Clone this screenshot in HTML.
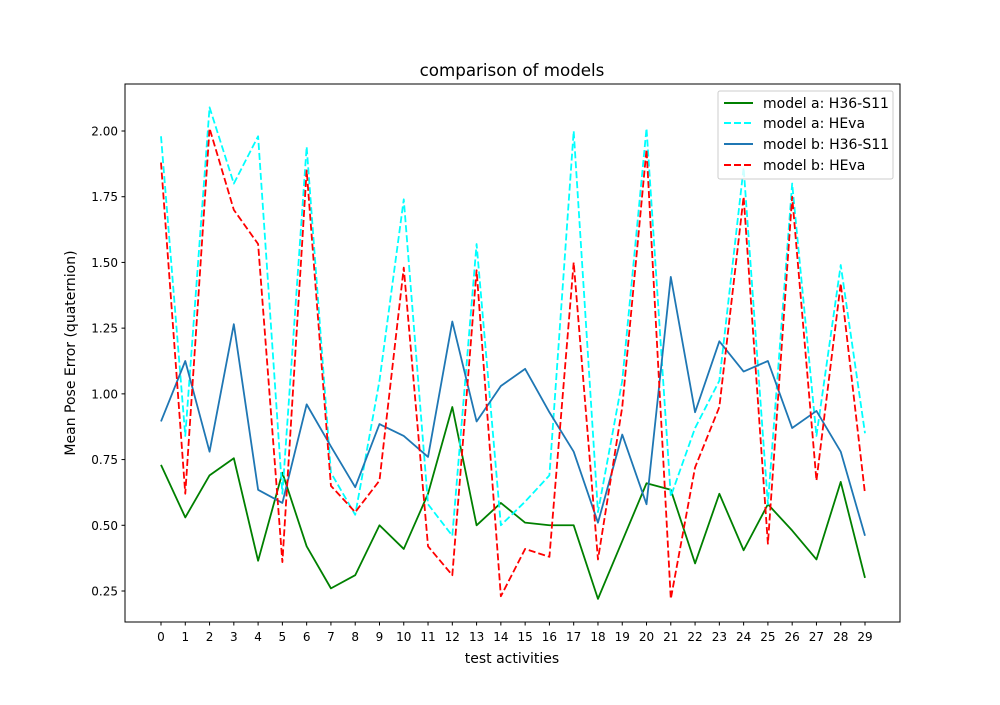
<!DOCTYPE html>
<html><head><meta charset="utf-8"><style>
body{margin:0;background:#fff;}
svg text{font-family:"DejaVu Sans","Liberation Sans",sans-serif;}
</style></head><body>
<svg id="chart" width="1000" height="700" xmlns="http://www.w3.org/2000/svg">
<rect width="1000" height="700" fill="#fff"/>
<text x="512" y="76" font-size="16.7" text-anchor="middle" fill="#000">comparison of models</text>
<g id="plot"></g>
<rect x="125" y="84" width="775" height="538" fill="none" stroke="#000" stroke-width="1"/>
<text x="512" y="663" font-size="14" text-anchor="middle">test activities</text>
<text transform="translate(75,353) rotate(-90)" font-size="14" text-anchor="middle">Mean Pose Error (quaternion)</text>
<g>
<rect x="718" y="91" width="175" height="88" rx="2" fill="#fff" fill-opacity="0.8" stroke="#ccc"/>
<line x1="724" y1="103" x2="753" y2="103" stroke="green" stroke-width="2"/>
<text x="763" y="108" font-size="14">model a: H36-S11</text>
<line x1="724" y1="123" x2="753" y2="123" stroke="cyan" stroke-width="2" stroke-dasharray="7,3"/>
<text x="763" y="128" font-size="14">model a: HEva</text>
<line x1="724" y1="144" x2="753" y2="144" stroke="#1f77b4" stroke-width="2"/>
<text x="763" y="149" font-size="14">model b: H36-S11</text>
<line x1="724" y1="165" x2="753" y2="165" stroke="red" stroke-width="2" stroke-dasharray="7,3"/>
<text x="763" y="170" font-size="14">model b: HEva</text>
</g>
</svg>
<script>
const categories = Array.from({length:30},(_,i)=>i);
const modelAH36 = [0.73,0.53,0.69,0.755,0.365,0.70,0.42,0.26,0.31,0.50,0.41,0.62,0.95,0.50,0.585,0.51,0.50,0.50,0.22,0.44,0.66,0.635,0.355,0.62,0.405,0.58,0.48,0.37,0.665,0.30];
const modelAHEva = [1.98,0.84,2.09,1.80,1.98,0.62,1.94,0.70,0.54,1.05,1.74,0.58,0.46,1.57,0.50,0.59,0.69,2.00,0.55,1.05,2.01,0.61,0.87,1.05,1.86,0.58,1.80,0.84,1.49,0.85];
const modelBH36 = [0.895,1.125,0.78,1.265,0.635,0.585,0.96,0.80,0.645,0.885,0.84,0.76,1.275,0.895,1.03,1.095,0.93,0.78,0.51,0.845,0.58,1.445,0.93,1.20,1.085,1.125,0.87,0.935,0.78,0.46];
const modelBHEva = [1.88,0.62,2.01,1.70,1.57,0.36,1.85,0.65,0.55,0.67,1.48,0.42,0.31,1.47,0.23,0.41,0.38,1.50,0.37,0.95,1.93,0.22,0.72,0.95,1.75,0.43,1.75,0.67,1.42,0.62];
const yTicks = [0.25,0.50,0.75,1.00,1.25,1.50,1.75,2.00];

const NS="http://www.w3.org/2000/svg";
const g=document.getElementById('plot');
const xS=v=>161+v*(865-161)/29;
const yS=v=>591-(v-0.25)*(460/1.75);
function mk(t,a){const e=document.createElementNS(NS,t);for(const k in a)e.setAttribute(k,a[k]);g.appendChild(e);return e;}
categories.forEach(c=>{
  const x=xS(c);
  const t=mk('line',{x1:x,x2:x,y1:622,y2:625.5,stroke:'#000'});
  
  
  const l=mk('text',{x:x,y:641,'font-size':12,'text-anchor':'middle'});
  l.textContent=String(c);
  
  
});
yTicks.forEach(v=>{
  const y=yS(v);
  const t=mk('line',{x1:121.5,x2:125,y1:y,y2:y,stroke:'#000'});
  
  
  const l=mk('text',{x:118,y:y+4.5,'font-size':12,'text-anchor':'end'});
  l.textContent=v.toFixed(2);
  
  
});
function series(arr,color,dash,name){
  const p=mk('polyline',{points:arr.map((v,i)=>xS(categories[i])+','+yS(v)).join(' '),fill:'none',stroke:color,'stroke-width':1.8,'stroke-linejoin':'round'});
  if(dash)p.setAttribute('stroke-dasharray',dash);
  
  
}
series(modelAH36,'green',null,'series-model-a-h36');
series(modelAHEva,'cyan','7,3','series-model-a-heva');
series(modelBH36,'#1f77b4',null,'series-model-b-h36');
series(modelBHEva,'red','7,3','series-model-b-heva');
</script>
</body></html>
